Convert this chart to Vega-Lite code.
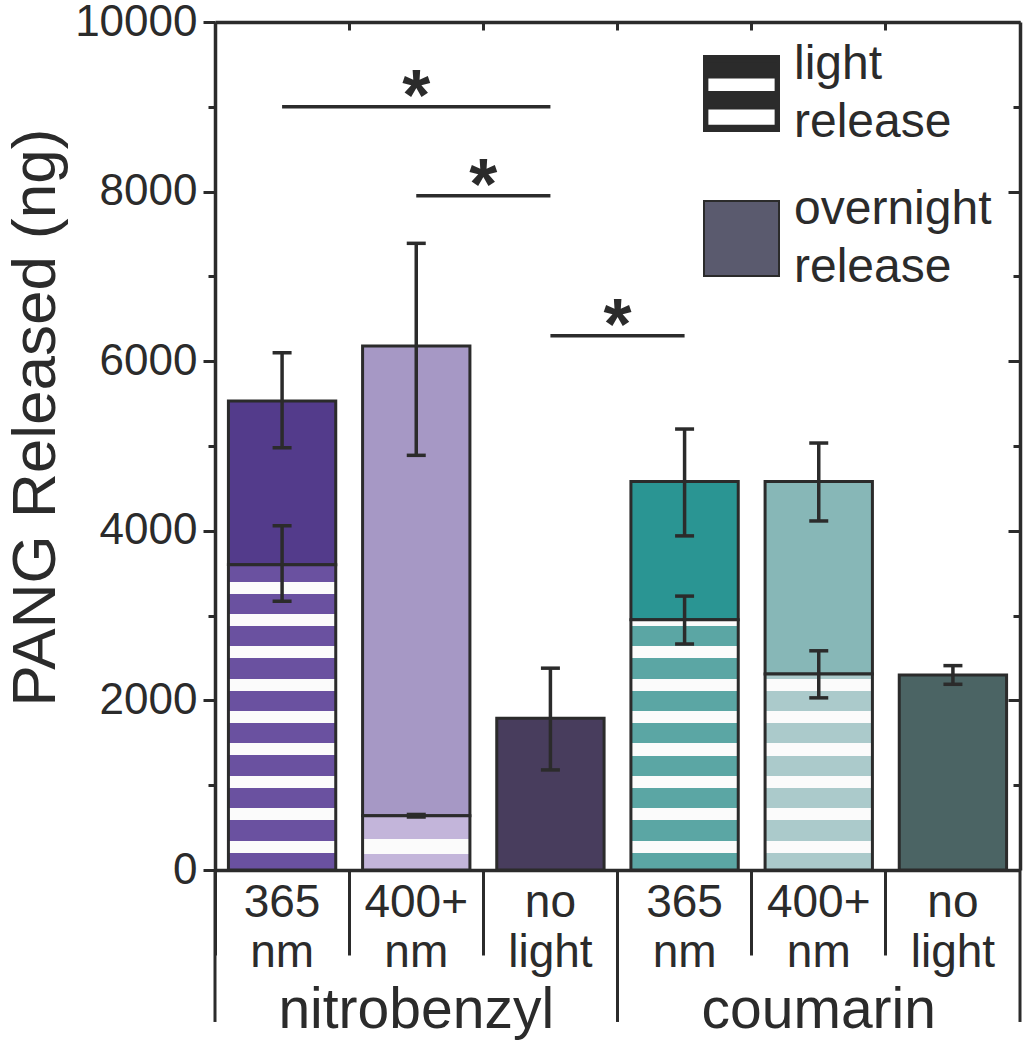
{
  "$schema": "https://vega.github.io/schema/vega-lite/v6.json",
  "width": 805,
  "height": 848,
  "autosize": {"type": "none"},
  "padding": {"left": 215, "top": 22, "right": 9, "bottom": 180},
  "config": {"font": "Liberation Sans", "view": {"stroke": null}},
  "datasets": {
    "bars": [
      {"cat": "nitrobenzyl|365|nm", "light": 3600, "total": 5530},
      {"cat": "nitrobenzyl|400+|nm", "light": 640, "total": 6180},
      {"cat": "nitrobenzyl|no|light", "light": 0, "total": 1790},
      {"cat": "coumarin|365|nm", "light": 2950, "total": 4580},
      {"cat": "coumarin|400+|nm", "light": 2310, "total": 4580},
      {"cat": "coumarin|no|light", "light": 0, "total": 2300}
    ],
    "errs": [
      {"cat": "nitrobenzyl|365|nm", "lo": 4980, "hi": 6100},
      {"cat": "nitrobenzyl|365|nm", "lo": 3170, "hi": 4060},
      {"cat": "nitrobenzyl|400+|nm", "lo": 4890, "hi": 7390},
      {"cat": "nitrobenzyl|400+|nm", "lo": 625, "hi": 655},
      {"cat": "nitrobenzyl|no|light", "lo": 1180, "hi": 2380},
      {"cat": "coumarin|365|nm", "lo": 3940, "hi": 5200},
      {"cat": "coumarin|365|nm", "lo": 2665, "hi": 3230},
      {"cat": "coumarin|400+|nm", "lo": 4116, "hi": 5035},
      {"cat": "coumarin|400+|nm", "lo": 2030, "hi": 2585},
      {"cat": "coumarin|no|light", "lo": 2190, "hi": 2410}
    ],
    "sig": [
      {"from": "nitrobenzyl|365|nm", "to": "nitrobenzyl|no|light", "level": 9000, "star": "nitrobenzyl|400+|nm"},
      {"from": "nitrobenzyl|400+|nm", "to": "nitrobenzyl|no|light", "level": 7950, "star": "nitrobenzyl|no|light"},
      {"from": "nitrobenzyl|no|light", "to": "coumarin|365|nm", "level": 6300, "star": "coumarin|365|nm"}
    ],
    "groups": [
      {"group": "nitrobenzyl", "cat": "nitrobenzyl|400+|nm"},
      {"group": "coumarin", "cat": "coumarin|400+|nm"}
    ],
    "legend": [
      {"item": "light release"},
      {"item": "overnight release"}
    ]
  },
  "resolve": {"axis": {"x": "independent", "y": "independent"}},
  "layer": [
    {
      "data": {"name": "bars"},
      "mark": {"type": "bar", "width": {"band": 0.8}, "stroke": "#2b2b2b", "strokeWidth": 3},
      "encoding": {
        "x": {
          "field": "cat", "type": "nominal",
          "scale": {"domain": ["nitrobenzyl|365|nm","nitrobenzyl|400+|nm","nitrobenzyl|no|light","coumarin|365|nm","coumarin|400+|nm","coumarin|no|light"], "paddingInner": 0, "paddingOuter": 0},
          "axis": {
            "orient": "bottom", "title": null, "bandPosition": 0, "grid": false,
            "domainColor": "#2b2b2b", "domainWidth": 3.5,
            "tickColor": "#2b2b2b", "tickWidth": 3, "tickSize": 85,
            "labelPadding": -75,
            "labelExpr": "slice(split(datum.value, '|'), 1)",
            "labelAngle": 0, "labelAlign": "center", "labelBaseline": "top",
            "labelFontSize": 46, "labelLineHeight": 50, "labelColor": "#2b2b2b",
            "labelLimit": 0, "labelOverlap": false, "labelBound": false, "labelFlush": false
          }
        },
        "y": {
          "field": "total", "type": "quantitative",
          "scale": {"domain": [0, 10000], "nice": false},
          "axis": {
            "orient": "left", "title": "PANG Released (ng)", "grid": false,
            "values": [0,1000,2000,3000,4000,5000,6000,7000,8000,9000,10000], "format": "d",
            "labelExpr": "datum.value % 2000 === 0 ? datum.label : ''",
            "tickSize": {"condition": {"test": "datum.value % 2000 === 0", "value": 12}, "value": 7},
            "tickWidth": 3, "tickColor": "#2b2b2b", "domainColor": "#2b2b2b", "domainWidth": 3.5,
            "labelFontSize": 44, "labelColor": "#2b2b2b", "labelPadding": 6,
            "labelFlush": false, "labelOverlap": false, "labelBound": false,
            "titleFontSize": 62, "titleFontWeight": "normal", "titleColor": "#2b2b2b",
            "titleX": -161, "titleY": 395, "titleAngle": -90, "titleBaseline": "alphabetic", "titleAlign": "center"
          }
        },
        "y2": {"field": "light"},
        "fill": {
          "field": "cat", "type": "nominal", "legend": null,
          "scale": {
            "domain": ["nitrobenzyl|365|nm","nitrobenzyl|400+|nm","nitrobenzyl|no|light","coumarin|365|nm","coumarin|400+|nm","coumarin|no|light"],
            "range": ["#533b8b", "#a698c5", "#483d5d", "#2a9593", "#87b7b7", "#4b6464"]
          }
        }
      }
    },
    {
      "data": {"name": "bars"},
      "transform": [{"filter": "datum.cat === 'nitrobenzyl|365|nm'"}],
      "mark": {
        "type": "bar", "width": {"band": 0.8}, "stroke": "#2b2b2b", "strokeWidth": 3,
        "fill": {
          "gradient": "linear", "x1": 0, "y1": 1, "x2": 0, "y2": 0,
          "stops": [
            {"offset": 0, "color": "#6a51a0"},
            {"offset": 0.0567, "color": "#6a51a0"}, {"offset": 0.0567, "color": "#fbfbfb"}, {"offset": 0.096, "color": "#fbfbfb"}, {"offset": 0.096, "color": "#6a51a0"},
            {"offset": 0.1628, "color": "#6a51a0"}, {"offset": 0.1628, "color": "#fbfbfb"}, {"offset": 0.2021, "color": "#fbfbfb"}, {"offset": 0.2021, "color": "#6a51a0"},
            {"offset": 0.2689, "color": "#6a51a0"}, {"offset": 0.2689, "color": "#fbfbfb"}, {"offset": 0.3082, "color": "#fbfbfb"}, {"offset": 0.3082, "color": "#6a51a0"},
            {"offset": 0.3751, "color": "#6a51a0"}, {"offset": 0.3751, "color": "#fbfbfb"}, {"offset": 0.4144, "color": "#fbfbfb"}, {"offset": 0.4144, "color": "#6a51a0"},
            {"offset": 0.4812, "color": "#6a51a0"}, {"offset": 0.4812, "color": "#fbfbfb"}, {"offset": 0.5205, "color": "#fbfbfb"}, {"offset": 0.5205, "color": "#6a51a0"},
            {"offset": 0.5873, "color": "#6a51a0"}, {"offset": 0.5873, "color": "#fbfbfb"}, {"offset": 0.6266, "color": "#fbfbfb"}, {"offset": 0.6266, "color": "#6a51a0"},
            {"offset": 0.6935, "color": "#6a51a0"}, {"offset": 0.6935, "color": "#fbfbfb"}, {"offset": 0.7328, "color": "#fbfbfb"}, {"offset": 0.7328, "color": "#6a51a0"},
            {"offset": 0.7996, "color": "#6a51a0"}, {"offset": 0.7996, "color": "#fbfbfb"}, {"offset": 0.8389, "color": "#fbfbfb"}, {"offset": 0.8389, "color": "#6a51a0"},
            {"offset": 0.9057, "color": "#6a51a0"}, {"offset": 0.9057, "color": "#fbfbfb"}, {"offset": 0.945, "color": "#fbfbfb"}, {"offset": 0.945, "color": "#6a51a0"},
            {"offset": 1, "color": "#6a51a0"}
          ]
        }
      },
      "encoding": {
        "x": {"field": "cat", "type": "nominal", "axis": null},
        "y": {"field": "light", "type": "quantitative", "scale": {"domain": [0, 10000], "nice": false}, "axis": null}
      }
    },
    {
      "data": {"name": "bars"},
      "transform": [{"filter": "datum.cat === 'nitrobenzyl|400+|nm'"}],
      "mark": {
        "type": "bar", "width": {"band": 0.8}, "stroke": "#2b2b2b", "strokeWidth": 3,
        "fill": {
          "gradient": "linear", "x1": 0, "y1": 1, "x2": 0, "y2": 0,
          "stops": [
            {"offset": 0, "color": "#c3b5da"},
            {"offset": 0.2948, "color": "#c3b5da"}, {"offset": 0.2948, "color": "#fbfbfb"}, {"offset": 0.5712, "color": "#fbfbfb"}, {"offset": 0.5712, "color": "#c3b5da"},
            {"offset": 1, "color": "#c3b5da"}
          ]
        }
      },
      "encoding": {
        "x": {"field": "cat", "type": "nominal", "axis": null},
        "y": {"field": "light", "type": "quantitative", "scale": {"domain": [0, 10000], "nice": false}, "axis": null}
      }
    },
    {
      "data": {"name": "bars"},
      "transform": [{"filter": "datum.cat === 'coumarin|365|nm'"}],
      "mark": {
        "type": "bar", "width": {"band": 0.8}, "stroke": "#2b2b2b", "strokeWidth": 3,
        "fill": {
          "gradient": "linear", "x1": 0, "y1": 1, "x2": 0, "y2": 0,
          "stops": [
            {"offset": 0, "color": "#5ba6a4"},
            {"offset": 0.0692, "color": "#5ba6a4"}, {"offset": 0.0692, "color": "#fbfbfb"}, {"offset": 0.1171, "color": "#fbfbfb"}, {"offset": 0.1171, "color": "#5ba6a4"},
            {"offset": 0.1987, "color": "#5ba6a4"}, {"offset": 0.1987, "color": "#fbfbfb"}, {"offset": 0.2466, "color": "#fbfbfb"}, {"offset": 0.2466, "color": "#5ba6a4"},
            {"offset": 0.3282, "color": "#5ba6a4"}, {"offset": 0.3282, "color": "#fbfbfb"}, {"offset": 0.3762, "color": "#fbfbfb"}, {"offset": 0.3762, "color": "#5ba6a4"},
            {"offset": 0.4577, "color": "#5ba6a4"}, {"offset": 0.4577, "color": "#fbfbfb"}, {"offset": 0.5057, "color": "#fbfbfb"}, {"offset": 0.5057, "color": "#5ba6a4"},
            {"offset": 0.5872, "color": "#5ba6a4"}, {"offset": 0.5872, "color": "#fbfbfb"}, {"offset": 0.6352, "color": "#fbfbfb"}, {"offset": 0.6352, "color": "#5ba6a4"},
            {"offset": 0.7167, "color": "#5ba6a4"}, {"offset": 0.7167, "color": "#fbfbfb"}, {"offset": 0.7647, "color": "#fbfbfb"}, {"offset": 0.7647, "color": "#5ba6a4"},
            {"offset": 0.8463, "color": "#5ba6a4"}, {"offset": 0.8463, "color": "#fbfbfb"}, {"offset": 0.8942, "color": "#fbfbfb"}, {"offset": 0.8942, "color": "#5ba6a4"},
            {"offset": 0.9758, "color": "#5ba6a4"}, {"offset": 0.9758, "color": "#fbfbfb"}, {"offset": 1, "color": "#fbfbfb"}
          ]
        }
      },
      "encoding": {
        "x": {"field": "cat", "type": "nominal", "axis": null},
        "y": {"field": "light", "type": "quantitative", "scale": {"domain": [0, 10000], "nice": false}, "axis": null}
      }
    },
    {
      "data": {"name": "bars"},
      "transform": [{"filter": "datum.cat === 'coumarin|400+|nm'"}],
      "mark": {
        "type": "bar", "width": {"band": 0.8}, "stroke": "#2b2b2b", "strokeWidth": 3,
        "fill": {
          "gradient": "linear", "x1": 0, "y1": 1, "x2": 0, "y2": 0,
          "stops": [
            {"offset": 0, "color": "#abcacb"},
            {"offset": 0.0883, "color": "#abcacb"}, {"offset": 0.0883, "color": "#fbfbfb"}, {"offset": 0.1496, "color": "#fbfbfb"}, {"offset": 0.1496, "color": "#abcacb"},
            {"offset": 0.2537, "color": "#abcacb"}, {"offset": 0.2537, "color": "#fbfbfb"}, {"offset": 0.315, "color": "#fbfbfb"}, {"offset": 0.315, "color": "#abcacb"},
            {"offset": 0.4191, "color": "#abcacb"}, {"offset": 0.4191, "color": "#fbfbfb"}, {"offset": 0.4804, "color": "#fbfbfb"}, {"offset": 0.4804, "color": "#abcacb"},
            {"offset": 0.5845, "color": "#abcacb"}, {"offset": 0.5845, "color": "#fbfbfb"}, {"offset": 0.6458, "color": "#fbfbfb"}, {"offset": 0.6458, "color": "#abcacb"},
            {"offset": 0.7499, "color": "#abcacb"}, {"offset": 0.7499, "color": "#fbfbfb"}, {"offset": 0.8112, "color": "#fbfbfb"}, {"offset": 0.8112, "color": "#abcacb"},
            {"offset": 0.9153, "color": "#abcacb"}, {"offset": 0.9153, "color": "#fbfbfb"}, {"offset": 0.9766, "color": "#fbfbfb"}, {"offset": 0.9766, "color": "#abcacb"},
            {"offset": 1, "color": "#abcacb"}
          ]
        }
      },
      "encoding": {
        "x": {"field": "cat", "type": "nominal", "axis": null},
        "y": {"field": "light", "type": "quantitative", "scale": {"domain": [0, 10000], "nice": false}, "axis": null}
      }
    },
    {
      "data": {"name": "errs"},
      "mark": {"type": "rule", "strokeWidth": 3.5, "color": "#2b2b2b"},
      "encoding": {
        "x": {"field": "cat", "type": "nominal", "axis": null},
        "y": {"field": "lo", "type": "quantitative", "scale": {"domain": [0, 10000], "nice": false}, "axis": null},
        "y2": {"field": "hi"}
      }
    },
    {
      "data": {"name": "errs"},
      "mark": {"type": "tick", "orient": "horizontal", "size": 19, "thickness": 3.5, "color": "#2b2b2b", "opacity": 1},
      "encoding": {
        "x": {"field": "cat", "type": "nominal", "axis": null},
        "y": {"field": "lo", "type": "quantitative", "scale": {"domain": [0, 10000], "nice": false}, "axis": null}
      }
    },
    {
      "data": {"name": "errs"},
      "mark": {"type": "tick", "orient": "horizontal", "size": 19, "thickness": 3.5, "color": "#2b2b2b", "opacity": 1},
      "encoding": {
        "x": {"field": "cat", "type": "nominal", "axis": null},
        "y": {"field": "hi", "type": "quantitative", "scale": {"domain": [0, 10000], "nice": false}, "axis": null}
      }
    },
    {
      "data": {"name": "sig"},
      "mark": {"type": "rule", "strokeWidth": 3.5, "color": "#2b2b2b"},
      "encoding": {
        "x": {
          "field": "from", "type": "nominal",
          "axis": {"orient": "top", "title": null, "labels": false, "bandPosition": 0, "grid": false, "tickSize": -8, "tickWidth": 3, "tickColor": "#2b2b2b", "domainColor": "#2b2b2b", "domainWidth": 3.5}
        },
        "x2": {"field": "to"},
        "y": {
          "field": "level", "type": "quantitative", "scale": {"domain": [0, 10000], "nice": false},
          "axis": {
            "orient": "right", "title": null, "labels": false, "grid": false,
            "values": [0,1000,2000,3000,4000,5000,6000,7000,8000,9000,10000],
            "tickSize": {"condition": {"test": "datum.value % 2000 === 0", "value": -12}, "value": -7},
            "tickWidth": 3, "tickColor": "#2b2b2b", "domainColor": "#2b2b2b", "domainWidth": 3.5
          }
        }
      }
    },
    {
      "data": {"name": "sig"},
      "transform": [{"filter": "datum.level === 9000"}],
      "mark": {"type": "text", "text": "*", "fontSize": 72, "fontWeight": "bold", "align": "center", "baseline": "alphabetic", "dy": 13, "color": "#2b2b2b"},
      "encoding": {
        "x": {"field": "star", "type": "nominal", "axis": null},
        "y": {"field": "level", "type": "quantitative", "scale": {"domain": [0, 10000], "nice": false}, "axis": null}
      }
    },
    {
      "data": {"name": "sig"},
      "transform": [{"filter": "datum.level !== 9000"}],
      "mark": {"type": "text", "text": "*", "fontSize": 72, "fontWeight": "bold", "align": "center", "baseline": "alphabetic", "dy": 13, "color": "#2b2b2b"},
      "encoding": {
        "x": {"field": "star", "type": "nominal", "bandPosition": 0, "axis": null},
        "y": {"field": "level", "type": "quantitative", "scale": {"domain": [0, 10000], "nice": false}, "axis": null}
      }
    },
    {
      "data": {"name": "groups"},
      "mark": {"type": "text", "fontSize": 57, "align": "center", "baseline": "alphabetic", "color": "#2b2b2b"},
      "encoding": {
        "x": {"field": "cat", "type": "nominal", "axis": null},
        "y": {"datum": -1863, "type": "quantitative", "scale": {"domain": [0, 10000], "nice": false}, "axis": null},
        "text": {"field": "group"}
      }
    },
    {
      "data": {"name": "bars"},
      "transform": [{"filter": "indexof(datum.cat, '|365|') >= 0"}],
      "mark": {"type": "rule", "strokeWidth": 3, "color": "#2b2b2b"},
      "encoding": {
        "x": {"field": "cat", "type": "nominal", "bandPosition": 0, "axis": null},
        "y": {"datum": 0, "type": "quantitative", "scale": {"domain": [0, 10000], "nice": false}, "axis": null},
        "y2": {"datum": -1792}
      }
    },
    {
      "data": {"name": "bars"},
      "transform": [{"filter": "datum.cat === 'coumarin|no|light'"}],
      "mark": {"type": "rule", "strokeWidth": 3, "color": "#2b2b2b"},
      "encoding": {
        "x": {"field": "cat", "type": "nominal", "bandPosition": 1, "axis": null},
        "y": {"datum": 0, "type": "quantitative", "scale": {"domain": [0, 10000], "nice": false}, "axis": null},
        "y2": {"datum": -1792}
      }
    },
    {
      "data": {"name": "legend"},
      "mark": {"type": "point", "filled": true, "opacity": 0},
      "encoding": {
        "color": {
          "field": "item", "type": "nominal",
          "scale": {"domain": ["light release", "overnight release"], "range": ["#2b2b2b", "#5a5a6e"]},
          "legend": {"orient": "none", "legendX": 488, "legendY": 33, "direction": "vertical", "title": null, "padding": 0, "symbolSize": 5625, "symbolStrokeColor": "#2b2b2b", "symbolStrokeWidth": 2, "symbolOpacity": 1, "labelFontSize": 48, "labelBaseline": "line-bottom", "labelColor": "#2b2b2b", "labelOffset": 14, "labelLimit": 500, "rowPadding": 38, "labelExpr": "split(datum.label, ' ')", "encode": {"labels": {"update": {"lineHeight": {"value": 58}}}}}
        },
        "shape": {
          "field": "item", "type": "nominal",
          "scale": {"domain": ["light release", "overnight release"], "range": ["M-1,-1H1V1H-1Z M-0.91,-0.9V-0.85H0.91V-0.9Z M-0.91,-0.43V-0.04H0.91V-0.43Z M-0.91,0.4V0.86H0.91V0.4Z", "square"]},
          "legend": {"orient": "none", "legendX": 488, "legendY": 33, "direction": "vertical", "title": null, "padding": 0, "symbolSize": 5625, "symbolStrokeColor": "#2b2b2b", "symbolStrokeWidth": 2, "symbolOpacity": 1, "labelFontSize": 48, "labelBaseline": "line-bottom", "labelColor": "#2b2b2b", "labelOffset": 14, "labelLimit": 500, "rowPadding": 38, "labelExpr": "split(datum.label, ' ')", "encode": {"labels": {"update": {"lineHeight": {"value": 58}}}}}
        }
      }
    }
  ]
}
